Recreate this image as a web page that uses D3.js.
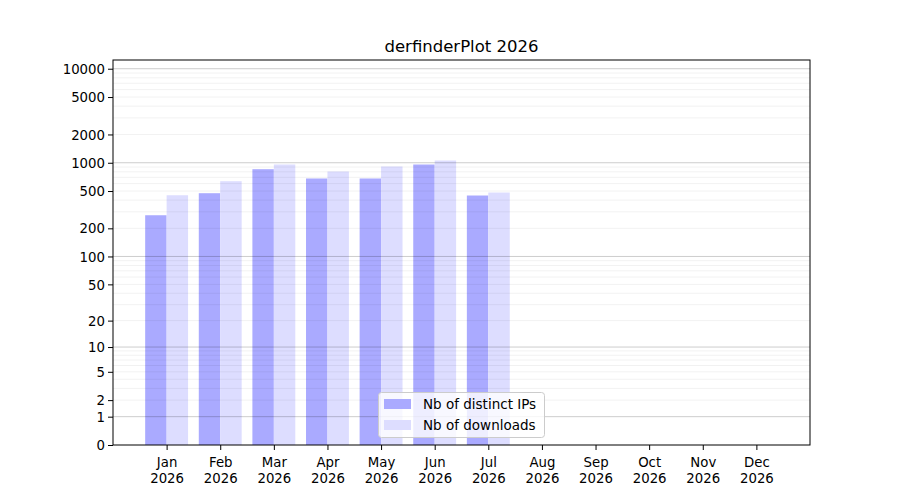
<!DOCTYPE html>
<html lang="en">
<head>
    <meta charset="UTF-8">
    <title>derfinderPlot 2026</title>
    <script src="https://d3js.org/d3.v7.min.js"></script>
    <style>
        * { margin: 0; padding: 0; box-sizing: border-box; }
        body { background: #fff; font-family: "DejaVu Sans", sans-serif; }
        .axis text { font-family: "DejaVu Sans", sans-serif; font-size: 13.3px; fill: #000; }
        .axis path, .axis line { stroke: #000; stroke-width: 1; }
    </style>
</head>
<body>
    <div id="chart"></div>

    <script>
        // Data
        const months = ["Jan", "Feb", "Mar", "Apr", "May", "Jun", "Jul", "Aug", "Sep", "Oct", "Nov", "Dec"];
        const year = "2026";
        const distinctIPs = [276, 474, 854, 680, 680, 958, 448, 0, 0, 0, 0, 0];
        const downloads = [451, 636, 958, 807, 913, 1057, 482, 0, 0, 0, 0, 0];
        const yTickValues = [0, 1, 2, 5, 10, 20, 50, 100, 200, 500, 1000, 2000, 5000, 10000];
        const seriesNames = ["Nb of distinct IPs", "Nb of downloads"];
        const seriesColors = ["#aaaaff", "#ddddff"];

        const width = 900, height = 500;
        const margin = { top: 60, right: 90, bottom: 55, left: 113 };

        const svg = d3.select("#chart").append("svg")
            .attr("width", width)
            .attr("height", height);

        // x: month index 1..12 on a linear scale (matplotlib style margins)
        const x = d3.scaleLinear()
            .domain([0, 13])
            .range([margin.left, width - margin.right]);

        // y: log(1 + v) scale so that 0 can be drawn
        const y = d3.scaleSymlog()
            .constant(1)
            .domain([0, 12380])
            .range([height - margin.bottom, margin.top]);

        const barW = 0.4;

        // Bars
        const bars = svg.append("g");
        bars.selectAll("rect.ips")
            .data(distinctIPs).enter().append("rect")
            .attr("x", (d, i) => x(i + 1 - barW))
            .attr("width", x(barW) - x(0))
            .attr("y", d => y(d))
            .attr("height", d => y(0) - y(d))
            .attr("fill", seriesColors[0]);

        bars.selectAll("rect.dl")
            .data(downloads).enter().append("rect")
            .attr("x", (d, i) => x(i + 1))
            .attr("width", x(barW) - x(0))
            .attr("y", d => y(d))
            .attr("height", d => y(0) - y(d))
            .attr("fill", seriesColors[1]);

        // Gridlines (drawn over the bars, semi-transparent): major at decades, minor in between
        const major = [1, 10, 100, 1000, 10000];
        const minor = [];
        major.forEach(d => {
            for (let k = 2; k <= 9; k++) {
                if (d * k <= y.domain()[1]) minor.push(d * k);
            }
        });

        svg.append("g").selectAll("line.minor")
            .data(minor).enter().append("line")
            .attr("x1", margin.left).attr("x2", width - margin.right)
            .attr("y1", d => y(d)).attr("y2", d => y(d))
            .attr("stroke", "#000").attr("stroke-opacity", 0.07).attr("stroke-width", 0.8);

        svg.append("g").selectAll("line.major")
            .data(major).enter().append("line")
            .attr("x1", margin.left).attr("x2", width - margin.right)
            .attr("y1", d => y(d)).attr("y2", d => y(d))
            .attr("stroke", "#000").attr("stroke-opacity", 0.2).attr("stroke-width", 1);

        // Axes
        const xAxis = d3.axisBottom(x)
            .tickValues(d3.range(1, 13))
            .tickSize(5)
            .tickPadding(3)
            .tickFormat("");

        const gx = svg.append("g")
            .attr("class", "axis")
            .attr("transform", `translate(0,${height - margin.bottom})`)
            .call(xAxis);
        gx.select(".domain").remove();

        gx.selectAll(".tick").append("text")
            .attr("text-anchor", "middle")
            .selectAll("tspan")
            .data(d => [months[d - 1], year])
            .enter().append("tspan")
            .attr("x", 0)
            .attr("y", (d, i) => 22 + i * 16)
            .text(d => d);

        const yAxis = d3.axisLeft(y)
            .tickValues(yTickValues)
            .tickSize(5)
            .tickPadding(3)
            .tickFormat(d3.format("d"));

        const gy = svg.append("g")
            .attr("class", "axis")
            .attr("transform", `translate(${margin.left},0)`)
            .call(yAxis);
        gy.select(".domain").remove();
        gy.selectAll(".tick text").attr("dy", "0.35em");

        // Frame
        svg.append("rect")
            .attr("x", margin.left)
            .attr("y", margin.top)
            .attr("width", width - margin.left - margin.right)
            .attr("height", height - margin.top - margin.bottom)
            .attr("fill", "none")
            .attr("stroke", "#000")
            .attr("stroke-width", 1);

        // Title
        svg.append("text")
            .attr("x", (margin.left + width - margin.right) / 2)
            .attr("y", 52)
            .attr("text-anchor", "middle")
            .style("font-family", "DejaVu Sans, sans-serif")
            .style("font-size", "16.5px")
            .text("derfinderPlot " + year);

        // Legend
        const legend = svg.append("g").attr("transform", "translate(378.5,392.5)");
        legend.append("rect")
            .attr("width", 166)
            .attr("height", 45)
            .attr("rx", 3)
            .attr("fill", "#fff")
            .attr("fill-opacity", 0.8)
            .attr("stroke", "#cccccc")
            .attr("stroke-width", 1);

        const items = legend.selectAll("g.item")
            .data(seriesNames).enter().append("g")
            .attr("transform", (d, i) => `translate(0,${i * 21})`);

        items.append("rect")
            .attr("x", 5.5)
            .attr("y", 6.5)
            .attr("width", 27)
            .attr("height", 10)
            .attr("fill", (d, i) => seriesColors[i]);

        items.append("text")
            .attr("x", 44.5)
            .attr("y", 16)
            .style("font-family", "DejaVu Sans, sans-serif")
            .style("font-size", "13.5px")
            .text(d => d);
    </script>
</body>
</html>
